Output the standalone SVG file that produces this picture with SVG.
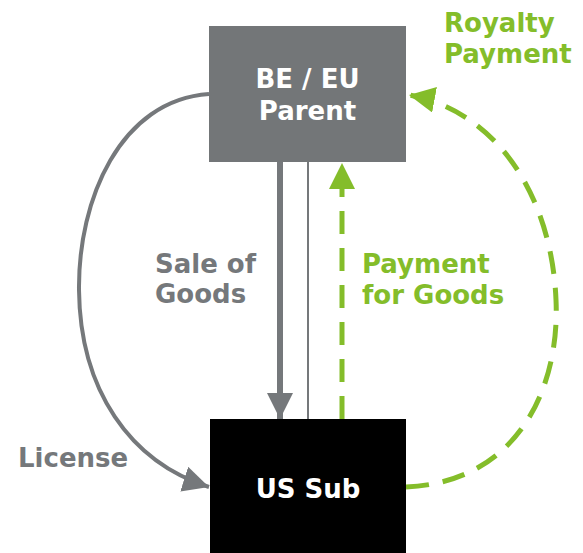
<svg xmlns="http://www.w3.org/2000/svg" width="583" height="553" viewBox="0 0 583 553">
  <defs>
    <style>
      text { font-family: "DejaVu Sans", Verdana, sans-serif; font-weight: bold; font-size: 26px; }
      .box-text { fill: #ffffff; text-anchor: middle; }
      .gray-label { fill: #75787b; }
      .green-label { fill: #84bd2a; }
      .gray-line { stroke: #75787b; fill: none; }
      .green-dash { stroke: #84bd2a; fill: none; stroke-width: 5; stroke-dasharray: 23 14; }
    </style>
    <marker id="head-gray" viewBox="0 0 10 10" refX="10" refY="5" markerWidth="26" markerHeight="26" markerUnits="userSpaceOnUse" orient="auto">
      <path d="M0,0 L10,5 L0,10 Z" fill="#75787b"/>
    </marker>
    <marker id="head-green" viewBox="0 0 10 10" refX="10" refY="5" markerWidth="26" markerHeight="26" markerUnits="userSpaceOnUse" orient="auto">
      <path d="M0,0 L10,5 L0,10 Z" fill="#84bd2a"/>
    </marker>
  </defs>

  <!-- connectors -->
  <g id="connectors">
    <!-- license: parent to sub, around the left -->
    <path class="gray-line" stroke-width="4" d="M209,94 C120,100 78,200 79,290 C80,390 130,462 209,487" marker-end="url(#head-gray)"/>
    <!-- sale of goods -->
    <line class="gray-line" stroke-width="6" x1="280" y1="162" x2="280" y2="419" marker-end="url(#head-gray)"/>
    <line class="gray-line" stroke-width="2" x1="308" y1="162" x2="308" y2="419"/>
    <!-- payment for goods -->
    <line class="green-dash" x1="342" y1="419" x2="342" y2="163" marker-end="url(#head-green)"/>
    <!-- royalty payment -->
    <path class="green-dash" d="M406,487 C520,482 560,385 556,300 C552,200 500,112 409,95" marker-end="url(#head-green)"/>
  </g>

  <g id="parent">
    <rect x="209" y="26" width="197" height="136" fill="#737678"/>
    <text class="box-text" x="307.5" y="88">BE / EU</text>
    <text class="box-text" x="307.5" y="120">Parent</text>
  </g>

  <g id="us-sub">
    <rect x="210" y="419" width="196" height="134" fill="#000000"/>
    <text class="box-text" x="308" y="498">US Sub</text>
  </g>

  <g id="labels">
    <text class="gray-label" x="155" y="273">Sale of</text>
    <text class="gray-label" x="155" y="303">Goods</text>
    <text class="gray-label" x="18" y="467">License</text>
    <text class="green-label" x="362" y="273">Payment</text>
    <text class="green-label" x="362" y="304">for Goods</text>
    <text class="green-label" x="444" y="32">Royalty</text>
    <text class="green-label" x="444" y="63">Payment</text>
  </g>
</svg>
